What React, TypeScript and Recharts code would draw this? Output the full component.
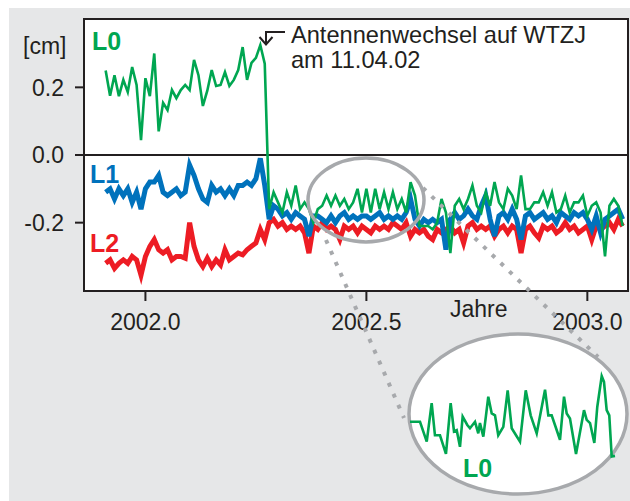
import { LineChart, Line, XAxis, YAxis, CartesianGrid, ReferenceLine, ReferenceArea } from 'recharts'

// daily-ish solutions, sampled every 0.01 yr starting at T0
const T0 = 2001.91
const DT = 0.01

const L0 = [
  0.25, 0.175, 0.236, 0.174, 0.222, 0.186, 0.26, 0.207, 0.044, 0.227,
  0.174, 0.3, 0.07, 0.154, 0.133, 0.192, 0.168, 0.192, 0.207, 0.192,
  0.281, 0.236, 0.145, 0.19, 0.251, 0.204, 0.207, 0.245, 0.204, 0.222,
  0.251, 0.319, 0.222, 0.272, 0.287, 0.325, 0.27,
  -0.16, -0.11, -0.14, -0.17, -0.11, -0.15, -0.09, -0.16, -0.14, -0.16,
  -0.2, -0.16, -0.15, -0.12, -0.15, -0.12, -0.15, -0.13, -0.16, -0.14,
  -0.1, -0.17, -0.1, -0.17, -0.1, -0.16, -0.11, -0.16, -0.11, -0.16,
  -0.13, -0.17, -0.08, -0.12, -0.21, -0.21, -0.21, -0.22, -0.2, -0.13,
  -0.17, -0.29, -0.15, -0.13, -0.16, -0.13, -0.09, -0.15, -0.17, -0.11,
  -0.15, -0.08, -0.14, -0.16, -0.1, -0.12, -0.16, -0.06, -0.16, -0.16,
  -0.14, -0.14, -0.11, -0.15, -0.11, -0.17, -0.16, -0.12, -0.17, -0.14,
  -0.14, -0.12, -0.18, -0.15, -0.14, -0.17, -0.3, -0.15, -0.13, -0.15,
  -0.21,
]

const L1 = [
  -0.11, -0.1, -0.13, -0.1, -0.12, -0.1, -0.14, -0.11, -0.16, -0.1,
  -0.08, -0.08, -0.06, -0.11, -0.12, -0.11, -0.1, -0.12, -0.11, -0.03,
  -0.06, -0.1, -0.13, -0.14, -0.09, -0.11, -0.1, -0.12, -0.1, -0.12,
  -0.09, -0.09, -0.08, -0.09, -0.07, -0.01, -0.09,
  -0.19, -0.15, -0.16, -0.18, -0.17, -0.19, -0.17, -0.18, -0.19, -0.24,
  -0.18, -0.18, -0.19, -0.2, -0.18, -0.2, -0.18, -0.17, -0.19, -0.18,
  -0.19, -0.18, -0.18, -0.19, -0.18, -0.17, -0.19, -0.18, -0.19, -0.18,
  -0.19, -0.17, -0.13, -0.19, -0.21, -0.19, -0.2, -0.19, -0.2, -0.19,
  -0.28, -0.19, -0.17, -0.19, -0.18, -0.16, -0.18, -0.19, -0.15, -0.12,
  -0.19, -0.24, -0.18, -0.17, -0.19, -0.16, -0.19, -0.25, -0.18, -0.17,
  -0.19, -0.18, -0.17, -0.19, -0.18, -0.2, -0.17, -0.18, -0.19, -0.17,
  -0.18, -0.17, -0.19, -0.22, -0.18, -0.23, -0.19, -0.18, -0.17, -0.16,
  -0.19,
]

const L2 = [
  -0.32, -0.31, -0.335, -0.32, -0.31, -0.32, -0.3, -0.31, -0.355, -0.3,
  -0.27, -0.25, -0.28, -0.29, -0.28, -0.31, -0.3, -0.3, -0.305, -0.2,
  -0.27, -0.31, -0.33, -0.305, -0.33, -0.31, -0.325, -0.28, -0.31, -0.3,
  -0.29, -0.295, -0.28, -0.27, -0.26, -0.22, -0.25,
  -0.2, -0.19, -0.21, -0.2, -0.22, -0.21, -0.22, -0.21, -0.23, -0.29,
  -0.21, -0.22, -0.2, -0.22, -0.21, -0.22, -0.25, -0.21, -0.22, -0.21,
  -0.23, -0.21, -0.22, -0.23, -0.21, -0.22, -0.21, -0.22, -0.2, -0.21,
  -0.22, -0.2, -0.24, -0.22, -0.23, -0.22, -0.24, -0.25, -0.22, -0.23,
  -0.22, -0.21, -0.23, -0.22, -0.26, -0.21, -0.2, -0.22, -0.21, -0.22,
  -0.21, -0.24, -0.22, -0.21, -0.23, -0.21, -0.22, -0.29, -0.22, -0.21,
  -0.23, -0.245, -0.21, -0.22, -0.21, -0.23, -0.22, -0.2, -0.22, -0.21,
  -0.23, -0.22, -0.21, -0.25, -0.21, -0.22, -0.21, -0.2, -0.22, -0.19,
  -0.21,
]

// zoomed L0 shown in the magnifier
const INSET_T = [
  2002.3703, 2002.3822, 2002.3902, 2002.3961, 2002.4, 2002.406, 2002.4131, 2002.4187, 2002.4227, 2002.4259,
  2002.4298, 2002.433, 2002.4385, 2002.4417, 2002.4477, 2002.4516, 2002.4536, 2002.4576, 2002.4608, 2002.4635,
  2002.4676, 2002.4715, 2002.4754, 2002.4814, 2002.4866, 2002.4914, 2002.5013, 2002.5081, 2002.514, 2002.5212,
  2002.5311, 2002.535, 2002.539, 2002.5489, 2002.5537, 2002.5569, 2002.5608, 2002.568, 2002.5775, 2002.5807,
  2002.5847, 2002.5898, 2002.5933, 2002.5986, 2002.6013, 2002.6045, 2002.6076, 2002.6105, 2002.6144,
]
const INSET_L0 = [
  -0.145, -0.145, -0.176, -0.116, -0.166, -0.166, -0.195, -0.116, -0.16, -0.158,
  -0.184, -0.137, -0.15, -0.155, -0.145, -0.163, -0.147, -0.168, -0.135, -0.106,
  -0.132, -0.135, -0.166, -0.153, -0.096, -0.155, -0.176, -0.096, -0.135, -0.163,
  -0.095, -0.135, -0.135, -0.173, -0.106, -0.132, -0.14, -0.195, -0.127, -0.142,
  -0.147, -0.178, -0.122, -0.074, -0.083, -0.127, -0.135, -0.199, -0.198,
]

const X_TICKS = [2002.0, 2002.5, 2003.0]
const Y_TICKS = [0.2, 0.0, -0.2]
const X_DOMAIN = [2001.861, 2003.092]
const Y_DOMAIN = [-0.402, 0.402]

const GREEN = '#00a651'
const BLUE = '#0072bc'
const RED = '#ed1c24'
const INK = '#231f20'
const GREY = '#a7a9ac'

const rows = L0.map((v, i) => ({ t: +(T0 + i * DT).toFixed(3), l0: v, l1: L1[i], l2: L2[i] }))
const insetRows = INSET_T.map((t, i) => ({ t, l0: INSET_L0[i] }))

export default function App() {
  return (
    <div style={{ position: 'fixed', left: 0, top: 0, width: 630, height: 501, background: '#fff', fontFamily: '"Liberation Sans", Arial, sans-serif' }}>
      <div style={{ position: 'absolute', left: 9, top: 8, width: 621, height: 493, background: '#e6e7e8' }} />
      <div style={{ position: 'absolute', left: 0, top: 0 }}>
        <LineChart width={630} height={501} data={rows} margin={{ top: 19, right: 2, left: 0, bottom: 170 }}>
          <CartesianGrid horizontal={false} vertical={false} fill="#fff" />
          <XAxis
            dataKey="t"
            type="number"
            domain={X_DOMAIN}
            ticks={X_TICKS}
            tickFormatter={(v: number) => v.toFixed(1)}
            height={40}
            tickSize={10}
            tickMargin={13}
            axisLine={{ stroke: INK, strokeWidth: 2 }}
            tickLine={{ stroke: INK, strokeWidth: 2 }}
            tick={{ fill: INK, fontSize: 23 }}
            allowDataOverflow
          />
          <YAxis
            type="number"
            domain={Y_DOMAIN}
            ticks={Y_TICKS}
            tickFormatter={(v: number) => v.toFixed(1)}
            width={84}
            tickSize={9}
            tickMargin={11}
            axisLine={{ stroke: INK, strokeWidth: 2 }}
            tickLine={{ stroke: INK, strokeWidth: 2 }}
            tick={{ fill: INK, fontSize: 23 }}
            allowDataOverflow
          />
          <ReferenceLine y={0} stroke={INK} strokeWidth={2} />
          <Line dataKey="l2" stroke={RED} strokeWidth={5} dot={false} isAnimationActive={false} />
          <Line dataKey="l1" stroke={BLUE} strokeWidth={5} dot={false} isAnimationActive={false} />
          <Line dataKey="l0" stroke={GREEN} strokeWidth={2.6} dot={false} isAnimationActive={false} />
          <ReferenceArea x1={X_DOMAIN[0]} x2={X_DOMAIN[1]} y1={Y_DOMAIN[0]} y2={Y_DOMAIN[1]} fill="none" stroke={INK} strokeWidth={2} />
        </LineChart>
      </div>
      <svg width={630} height={501} style={{ position: 'absolute', left: 0, top: 0, pointerEvents: 'none' }}>
        <text x={23} y={54} fontSize={23} fill={INK}>[cm]</text>
        <text x={92} y={50} fontSize={25} fontWeight="bold" fill={GREEN}>L0</text>
        <text x={90} y={183} fontSize={25} fontWeight="bold" fill={BLUE}>L1</text>
        <text x={90} y={252} fontSize={25} fontWeight="bold" fill={RED}>L2</text>
        <text x={450} y={317} fontSize={23} fill={INK}>Jahre</text>
        <polyline points="285,32 266,32 266,44" fill="none" stroke={INK} strokeWidth={2} />
        <polyline points="259.5,37 266,44.5 272.5,37" fill="none" stroke={INK} strokeWidth={2} />
        <text x={291} y={43} fontSize={23.6} fill={INK}>Antennenwechsel auf WTZJ</text>
        <text x={291} y={68} fontSize={23.6} fill={INK}>am 11.04.02</text>
        <ellipse cx={366} cy={200} rx={58} ry={42} fill="none" stroke={GREY} strokeWidth={3.5} />
        <line x1={326} y1={240} x2={404} y2={418} stroke={GREY} strokeWidth={4} strokeDasharray="4 8" />
        <line x1={423} y1={188} x2={598} y2={357} stroke={GREY} strokeWidth={4} strokeDasharray="4 8" />
        <ellipse cx={518} cy={414} rx={109} ry={80} fill="#fff" stroke={GREY} strokeWidth={3.5} />
        <text x={463} y={477} fontSize={25} fontWeight="bold" fill={GREEN}>L0</text>
      </svg>
      <div style={{ position: 'absolute', left: 408, top: 333 }}>
        <LineChart width={220} height={162} data={insetRows} margin={{ top: 0, right: 0, left: 0, bottom: 0 }}>
          <XAxis dataKey="t" type="number" domain={[2002.3679, 2002.6299]} hide />
          <YAxis type="number" domain={[-0.2589, -0.0069]} hide />
          <Line dataKey="l0" stroke={GREEN} strokeWidth={2.6} dot={false} isAnimationActive={false} />
        </LineChart>
      </div>
    </div>
  )
}
